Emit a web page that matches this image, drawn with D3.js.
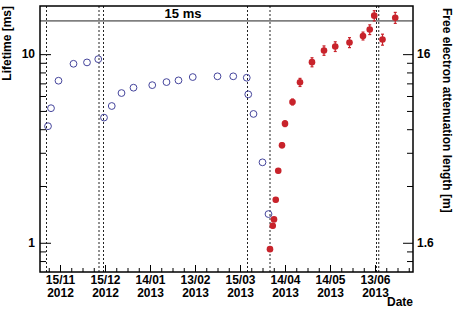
<!DOCTYPE html>
<html>
<head>
<meta charset="utf-8">
<script src="https://cdn.jsdelivr.net/npm/d3@7"></script>
<style>
  body { margin: 0; background: #fff; }
  text { font-family: "Liberation Sans", Arial, Helvetica, sans-serif; font-weight: bold; }
</style>
</head>
<body>
<div id="chart"></div>
<script>
// donnees
const blueDates = ["2012-11-07","2012-11-09","2012-11-14","2012-11-24","2012-12-03","2012-12-10T12:00",
  "2012-12-14T08:00","2012-12-19T12:00","2012-12-26","2013-01-03","2013-01-15T12:00","2013-01-25",
  "2013-02-02","2013-02-11T12:00","2013-02-28","2013-03-10T12:00","2013-03-19T12:00","2013-03-20T12:00",
  "2013-03-24","2013-03-30","2013-04-03"];
const blueValues = [4.15, 5.17, 7.23, 8.89, 9.04, 9.41, 4.61, 5.31, 6.22, 6.64, 6.85, 7.11,
  7.26, 7.56, 7.63, 7.63, 7.50, 6.12, 4.82, 2.67, 1.42];

const redDates = ["2013-04-04","2013-04-05T20:00","2013-04-06T16:00","2013-04-07T20:00","2013-04-09T12:00",
  "2013-04-12","2013-04-14","2013-04-19","2013-04-24","2013-05-02","2013-05-10","2013-05-17T12:00",
  "2013-05-27","2013-06-05","2013-06-09T12:00","2013-06-12T12:00","2013-06-18","2013-06-26T12:00"];
const redValues = [0.925, 1.23, 1.33, 1.69, 2.41, 3.29, 4.28, 5.58, 7.09, 9.07, 10.46, 10.98,
  11.53, 12.49, 13.5, 16.0, 11.96, 15.6];
const redErrors = [0.02, 0.03, 0.03, 0.04, 0.06, 0.1, 0.15, 0.2, 0.35, 0.5, 0.6, 0.65,
  0.7, 0.6, 0.8, 1.0, 0.8, 1.05];

const vlineDates = ["2012-11-06","2012-12-11","2012-12-14","2013-03-20","2013-04-04","2013-06-14","2013-06-15T12:00"];
const xTickDates = ["2012-11-15","2012-12-15","2013-01-14","2013-02-13","2013-03-15","2013-04-14","2013-05-14","2013-06-13"];
const yMajor = [1, 10];
const yMinor = [0.8, 0.9, 2, 3, 4, 5, 6, 7, 8, 9];
const lengthFactor = 1.6; // 1 ms <-> 1.6 m
const refLine = 15;
const refLabelDate = "2013-02-05";

// dimensions
const W = 458, H = 310;
const margin = {top: 6, right: 45, bottom: 38, left: 40};
const width = W - margin.left - margin.right;
const height = H - margin.top - margin.bottom;
const blue = "#45459c";
const red = "#c8232b";

const parse = s => new Date(s + (s.length > 10 ? ":00Z" : "T00:00:00Z"));

const svg = d3.select("#chart").append("svg")
    .attr("width", W).attr("height", H)
  .append("g")
    .attr("transform", `translate(${margin.left},${margin.top})`);

const x = d3.scaleUtc()
  .domain([new Date(Date.UTC(2012, 10, 1, 16)), new Date(Date.UTC(2013, 6, 8, 8))])
  .range([0, width]);
const y = d3.scaleLog().domain([0.7, 18]).range([height, 0]);
const yR = d3.scaleLog().domain([0.7 * lengthFactor, 18 * lengthFactor]).range([height, 0]);

// axe X : mineurs toutes les 7.5 jours
const t0 = parse(xTickDates[0]).getTime();
const minorX = d3.range(-1, 32).map(k => new Date(t0 + k * 7.5 * 86400000));
svg.append("g").attr("transform", `translate(0,${height})`)
  .call(d3.axisBottom(x).tickValues(minorX).tickSize(-4).tickFormat(""))
  .call(g => g.select(".domain").remove());
const xAx = svg.append("g").attr("transform", `translate(0,${height})`)
  .call(d3.axisBottom(x).tickValues(xTickDates.map(parse)).tickSize(-7).tickPadding(3)
    .tickFormat(""))
  .call(g => g.select(".domain").remove());
xAx.selectAll(".tick text").each(function(d) {
  const t = d3.select(this).attr("font-size", 12).attr("fill", "#000").attr("font-family", null).attr("dy", null).attr("y", 12);
  t.append("tspan").attr("x", 0).attr("y", 12).text(d3.utcFormat("%d/%m")(d));
  t.append("tspan").attr("x", 0).attr("y", 25).text(d3.utcFormat("%Y")(d));
});

// axe Y gauche
svg.append("g")
  .call(d3.axisLeft(y).tickValues(yMinor).tickSize(-6).tickFormat(""))
  .call(g => g.select(".domain").remove());
svg.append("g")
  .call(d3.axisLeft(y).tickValues(yMajor).tickSize(-11).tickPadding(5).tickFormat(d3.format("d")))
  .call(g => g.select(".domain").remove())
  .call(g => g.selectAll("text").attr("font-size", 12).attr("font-family", null).attr("fill", "#000"));

// axe Y droit (longueur d'attenuation)
svg.append("g").attr("transform", `translate(${width},0)`)
  .call(d3.axisRight(yR).tickValues(yMinor.map(v => v * lengthFactor)).tickSize(-6).tickFormat(""))
  .call(g => g.select(".domain").remove());
svg.append("g").attr("transform", `translate(${width},0)`)
  .call(d3.axisRight(yR).tickValues(yMajor.map(v => v * lengthFactor)).tickSize(-10).tickPadding(4)
    .tickFormat(d => d3.format(".2~g")(d)))
  .call(g => g.select(".domain").remove())
  .call(g => g.selectAll("text").attr("font-size", 12).attr("font-family", null).attr("fill", "#000"));

// lignes verticales pointillees
svg.append("g").selectAll("line")
  .data(vlineDates.map(parse))
  .join("line")
    .attr("x1", d => x(d)).attr("x2", d => x(d))
    .attr("y1", 0).attr("y2", height)
    .attr("stroke", "#222").attr("stroke-width", 1).attr("stroke-dasharray", "2,2");

// ligne 15 ms
svg.append("line")
  .attr("x1", 0).attr("x2", width)
  .attr("y1", y(refLine)).attr("y2", y(refLine))
  .attr("stroke", "#222").attr("stroke-width", 1);
svg.append("text")
  .attr("x", x(parse(refLabelDate)))
  .attr("y", y(refLine) - 3)
  .attr("text-anchor", "middle").attr("font-size", 13)
  .text(refLine + " ms");

// points bleus (cercles vides)
const blueData = blueDates.map((d, i) => ({date: parse(d), v: blueValues[i]}));
svg.append("g").selectAll("circle")
  .data(blueData)
  .join("circle")
    .attr("cx", d => x(d.date)).attr("cy", d => y(d.v)).attr("r", 3.4)
    .attr("fill", "none").attr("stroke", blue).attr("stroke-width", 1);

// points rouges + barres d'erreur
const redData = redDates.map((d, i) => ({date: parse(d), v: redValues[i], e: redErrors[i]}));
const eb = svg.append("g").attr("stroke", red).attr("stroke-width", 1.2);
eb.selectAll("line.bar").data(redData).join("line").attr("class", "bar")
  .attr("x1", d => x(d.date)).attr("x2", d => x(d.date))
  .attr("y1", d => y(d.v - d.e)).attr("y2", d => y(d.v + d.e));
eb.selectAll("line.capT").data(redData).join("line").attr("class", "capT")
  .attr("x1", d => x(d.date) - 1.5).attr("x2", d => x(d.date) + 1.5)
  .attr("y1", d => y(d.v + d.e)).attr("y2", d => y(d.v + d.e));
eb.selectAll("line.capB").data(redData).join("line").attr("class", "capB")
  .attr("x1", d => x(d.date) - 1.5).attr("x2", d => x(d.date) + 1.5)
  .attr("y1", d => y(d.v - d.e)).attr("y2", d => y(d.v - d.e));
svg.append("g").selectAll("circle")
  .data(redData)
  .join("circle")
    .attr("cx", d => x(d.date)).attr("cy", d => y(d.v)).attr("r", 3.3)
    .attr("fill", red);

// cadre
svg.append("rect")
  .attr("width", width).attr("height", height)
  .attr("fill", "none").attr("stroke", "#000").attr("stroke-width", 1.5);

// titres
svg.append("text")
  .attr("transform", `translate(${-margin.left + 11},0) rotate(-90)`)
  .attr("text-anchor", "end").attr("font-size", 12)
  .text("Lifetime [ms]");
svg.append("text")
  .attr("transform", `translate(${width + 30},2) rotate(90)`)
  .attr("text-anchor", "start").attr("font-size", 12)
  .text("Free electron attenuation length [m]");
svg.append("text")
  .attr("x", width).attr("y", height + 34)
  .attr("text-anchor", "end").attr("font-size", 12)
  .text("Date");
</script>
</body>
</html>
